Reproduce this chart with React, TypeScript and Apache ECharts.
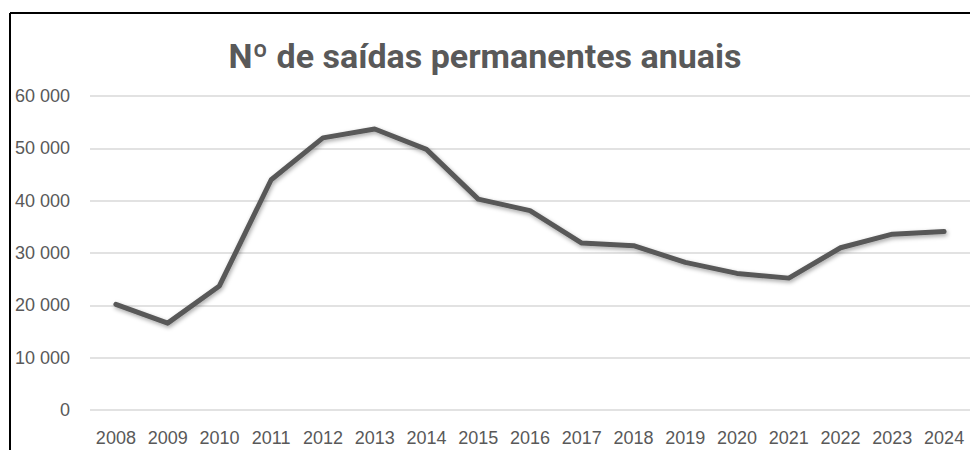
import React, { useEffect, useRef } from "react";
import * as echarts from "echarts";

const TITLE = "Nº de saídas permanentes anuais";
const years = ["2008","2009","2010","2011","2012","2013","2014","2015","2016","2017","2018","2019","2020","2021","2022","2023","2024"];
const saidas = [20200, 16600, 23700, 44000, 52000, 53700, 49800, 40300, 38100, 31900, 31400, 28200, 26100, 25200, 31000, 33600, 34100];
const yMin = 0;
const yMax = 60000;
const yStep = 10000;

const fmt = (v: number) => {
  const s = String(Math.round(v));
  return s.replace(/\B(?=(\d{3})+(?!\d))/g, " ");
};

export default function App() {
  const ref = useRef<HTMLDivElement>(null);
  useEffect(() => {
    document.body.style.margin = "0";
    const chart = echarts.init(ref.current!, undefined, { renderer: "svg" });
    chart.setOption({
      animation: false,
      backgroundColor: "#ffffff",
      title: {
        text: TITLE,
        left: "center",
        top: 34,
        textStyle: {
          fontFamily: "Roboto",
          fontWeight: "bold",
          fontSize: 34,
          color: "#595959",
        },
      },
      graphic: [
        {
          type: "line",
          shape: { x1: 10, y1: 13, x2: 970, y2: 13 },
          style: { stroke: "#000000", lineWidth: 2 },
          z: 100,
        },
        {
          type: "line",
          shape: { x1: 10, y1: 13, x2: 10, y2: 450 },
          style: { stroke: "#000000", lineWidth: 2 },
          z: 100,
        },
      ],
      grid: { left: 90, right: 0, top: 96, bottom: 40, containLabel: false },
      xAxis: {
        type: "category",
        data: years,
        boundaryGap: true,
        axisLine: { show: false },
        axisTick: { show: false },
        axisLabel: {
          interval: 0,
          color: "#595959",
          fontFamily: "Liberation Sans",
          fontSize: 18,
          margin: 19,
        },
      },
      yAxis: {
        type: "value",
        min: yMin,
        max: yMax,
        interval: yStep,
        axisLine: { show: false },
        axisTick: { show: false },
        splitLine: { lineStyle: { color: "#d9d9d9", width: 1.5 } },
        axisLabel: {
          color: "#595959",
          fontFamily: "Liberation Sans",
          fontSize: 18,
          margin: 20,
          formatter: (v: number) => fmt(v),
        },
      },
      series: [
        {
          type: "line",
          data: saidas,
          symbol: "none",
          lineStyle: {
            color: "#595959",
            width: 5,
            cap: "round",
            join: "round",
            shadowColor: "rgba(0,0,0,0.35)",
            shadowBlur: 4,
            shadowOffsetX: 1,
            shadowOffsetY: 2,
          },
        },
      ],
    });
    return () => chart.dispose();
  }, []);
  return <div ref={ref} style={{ width: 970, height: 450 }} />;
}
